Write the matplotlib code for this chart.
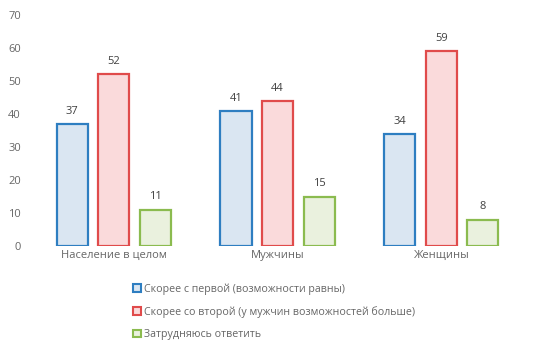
import numpy as np
import matplotlib.pyplot as plt
from matplotlib.patches import Patch

plt.rcParams['font.family'] = ['Open Sans', 'DejaVu Sans']

categories = ['Население в целом', 'Мужчины', 'Женщины']
series_names = ['Скорее с первой (возможности равны)',
                'Скорее со второй (у мужчин возможностей больше)',
                'Затрудняюсь ответить']
values = [
    [37, 41, 34],
    [52, 44, 59],
    [11, 15, 8],
]
edge_colors = ['#2E7EC1', '#E04B4B', '#8BBB4F']
fill_colors = ['#DAE6F2', '#FADADB', '#EAF1DE']

fig = plt.figure(figsize=(5.38, 3.51), dpi=100)
ax = fig.add_axes([0.0595, 0.299, 0.913, 0.658])

x = np.arange(len(categories))
width = 0.19
step = 0.254
for i, vals in enumerate(values):
    pos = x + (i - 1) * step
    bars = ax.bar(pos, vals, width, color=fill_colors[i], edgecolor=edge_colors[i], linewidth=1.6)
    for b, v in zip(bars, vals):
        ax.text(b.get_x() + b.get_width() / 2, v + 2.2, str(v), ha='center', va='bottom',
                fontsize=8, color='#404040')

ax.set_xlim(-0.5, 2.5)
ax.set_ylim(0, 70)
ax.set_yticks(range(0, 71, 10))
ax.set_xticks(x)
ax.set_xticklabels(categories)
for s in ax.spines.values():
    s.set_visible(False)
ax.tick_params(axis='both', length=0, labelsize=8, labelcolor='#666666')
ax.tick_params(axis='y', pad=8)
ax.tick_params(axis='x', pad=3)

handles = [Patch(facecolor=fill_colors[i], edgecolor=edge_colors[i], linewidth=1.5)
           for i in range(3)]
fig.legend(handles, series_names, loc='upper left', bbox_to_anchor=(0.24, 0.205),
           frameon=False, fontsize=7.7, handlelength=0.7, handleheight=0.7,
           handletextpad=0.3, labelspacing=1.05, labelcolor='#666666', borderaxespad=0)

fig.savefig('out.png', dpi=100)
